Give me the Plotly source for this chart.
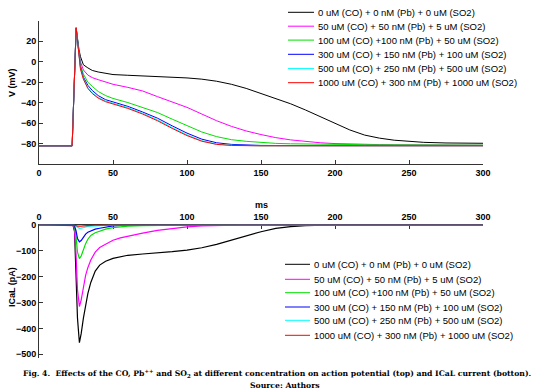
import plotly.graph_objects as go

# ---------------- data ----------------
series_names = [
    "0 uM (CO) + 0 nM (Pb) + 0 uM (SO2)",
    "50 uM (CO) + 50 nM (Pb) + 5 uM (SO2)",
    "100 uM (CO) +100 nM (Pb) + 50 uM (SO2)",
    "300 uM (CO) + 150 nM (Pb) + 100 uM (SO2)",
    "500 uM (CO) + 250 nM (Pb) + 500 uM (SO2)",
    "1000 uM (CO) + 300 nM (Pb) + 1000 uM (SO2)",
]
series_colors = ["#000000", "#ff00ff", "#00e000", "#0000ff", "#00ffff", "#ff0000"]

# action potential (top)
t_v = [0, 22.4, 25.1, 26, 27, 28, 30, 33, 36, 40, 45, 50, 60, 70, 80, 90, 100, 110,
       120, 130, 140, 150, 160, 170, 180, 190, 200, 210, 220, 230, 240, 250, 260, 275, 300]
v_ctrl = [-82, -82, 33, 22, 12, 5, -3, -6, -8.5, -10, -11.5, -12.5, -13.2, -13.8, -14.2,
          -14.8, -15.8, -17, -19, -22, -26, -31, -36, -41, -47, -53.5, -60, -66.5, -71.5,
          -74.5, -76.5, -77.8, -78.6, -79.2, -79.5]
v_50 = [-82, -82, 33, 20, 8, 0, -8, -13, -15.5, -17.5, -20, -22, -25, -28.5, -34, -39.5,
        -44.5, -51, -57.5, -63, -67.5, -71, -74, -76.2, -77.8, -79, -79.8, -80.3, -80.6,
        -80.8, -81, -81.1, -81.2, -81.3, -81.4]
v_100 = [-82, -82, 33, 20, 6, -3, -12, -20, -24, -29, -33, -35.8, -39.8, -44.5, -49.5,
         -56, -62.5, -68.5, -73, -76, -77.6, -78.9, -79.6, -80, -80.3, -80.5, -80.7, -80.8,
         -80.9, -81, -81, -81.1, -81.1, -81.2, -81.3]
v_300 = [-82, -82, 33, 19, 4, -5, -15, -23, -28, -33, -37, -39, -43.5, -49, -55, -62.5,
         -69.6, -75.5, -79, -80.6, -81.3, -81.6, -81.7, -81.8, -81.8, -81.8, -81.8, -81.8,
         -81.8, -81.8, -81.8, -81.8, -81.8, -81.8, -81.8]
v_500 = [-82, -82, 33, 18.5, 3.5, -6.5, -16.5, -25.3, -30.3, -34.8, -38.2, -40.5, -44.7,
         -50.2, -56.7, -64.2, -71.3, -77, -80.3, -81.4, -81.9, -82, -82, -82, -82, -82,
         -82, -82, -82, -82, -82, -82, -82, -82, -82]
v_1000 = [-82, -82, 33, 18, 3, -7, -17, -26, -31, -35.5, -39, -41.3, -45.5, -51, -57.5,
          -65, -72, -77.5, -80.6, -81.6, -82, -82, -82, -82, -82, -82, -82, -82, -82, -82,
          -82, -82, -82, -82, -82]
v_series = [v_ctrl, v_50, v_100, v_300, v_500, v_1000]

# ICaL current (bottom)
t_i = [0, 23, 24, 25, 26, 27.3, 28.5, 30, 31.5, 33, 35, 38, 41, 45, 50, 55, 60, 70, 80,
       90, 100, 110, 120, 130, 140, 150, 160, 170, 180, 190, 200, 220, 250, 300]
i_ctrl = [0, 0, -25, -160, -360, -455, -420, -360, -305, -265, -222, -178, -155, -140,
          -129, -122, -117, -112, -108, -103, -97, -88, -75, -58, -42, -26, -13, -6, -2.5,
          -1, 0, 0, 0, 0]
i_50 = [0, 0, -18, -110, -250, -315, -290, -240, -195, -165, -135, -105, -87, -74, -59,
        -50, -43, -31, -21, -14, -7, -3, -1.2, -0.5, 0, 0, 0, 0, 0, 0, 0, 0, 0, 0]
i_100 = [0, 0, -8, -45, -105, -130, -120, -95, -72, -55, -40, -30, -24, -16, -10, -6.5,
         -4.5, -2.5, -1.2, -0.5, 0, 0, 0, 0, 0, 0, 0, 0, 0, 0, 0, 0, 0, 0]
i_300 = [0, 0, -4, -22, -52, -65, -60, -45, -35, -28, -22, -16, -12.5, -7, -3, -1.5, -0.8,
         -0.3, 0, 0, 0, 0, 0, 0, 0, 0, 0, 0, 0, 0, 0, 0, 0, 0]
i_500 = [0, 0, -1, -5, -10, -13, -12, -9, -7, -5.5, -4, -2.5, -1.8, -1, -0.4, 0, 0, 0, 0,
         0, 0, 0, 0, 0, 0, 0, 0, 0, 0, 0, 0, 0, 0, 0]
i_1000 = [0, 0, -0.5, -2, -4, -5, -4.5, -3.5, -2.6, -2, -1.4, -0.8, -0.5, -0.2, 0, 0, 0, 0,
          0, 0, 0, 0, 0, 0, 0, 0, 0, 0, 0, 0, 0, 0, 0, 0]
i_series = [i_ctrl, i_50, i_100, i_300, i_500, i_1000]

x_ticks = [0, 50, 100, 150, 200, 250, 300]
v_ticks = [-80, -60, -40, -20, 0, 20]
i_ticks = [-500, -400, -300, -200, -100, 0]

# ---------------- layout helpers ----------------
W, H = 550, 392
def px(x):
    return x / W
def py(y):
    return 1 - y / H

fig = go.Figure()
for name, col, v in zip(series_names, series_colors, v_series):
    fig.add_trace(go.Scatter(x=t_v, y=v, mode="lines", name=name, showlegend=False,
                             line=dict(color=col, width=1), xaxis="x", yaxis="y"))
for name, col, cur in zip(series_names, series_colors, i_series):
    fig.add_trace(go.Scatter(x=t_i, y=cur, mode="lines", name=name, showlegend=False,
                             line=dict(color=col, width=1.2), xaxis="x2", yaxis="y2"))

tickfont = dict(family="Liberation Sans, Arial, sans-serif", size=9, color="#000",
                weight="bold")
axis_common = dict(showgrid=False, zeroline=False, showline=True, linecolor="#333",
                   linewidth=1, ticks="inside", ticklen=4, tickcolor="#333",
                   tickfont=tickfont, mirror=False, automargin=False)

fig.update_layout(
    width=W, height=H,
    margin=dict(l=0, r=0, t=0, b=0, autoexpand=False),
    paper_bgcolor="white", plot_bgcolor="white",
    xaxis=dict(domain=[px(39), px(483)], range=[0, 300], anchor="y",
               tickvals=x_ticks, **axis_common),
    yaxis=dict(domain=[py(164.3), py(20.7)], range=[-100, 40], anchor="x",
               tickvals=v_ticks, ticktext=[str(v).replace("-", "\u2212") for v in v_ticks],
               **axis_common),
    xaxis2=dict(domain=[px(39), px(483)], range=[0, 300], anchor="y2", side="top",
                tickvals=x_ticks, layer="below traces", **axis_common),
    yaxis2=dict(domain=[py(357.7), py(224.5)], range=[-513, 2], anchor="x2",
                tickvals=i_ticks, ticktext=[str(v).replace("-", "\u2212") for v in i_ticks],
                **axis_common),
)

annots = []
shapes = []
legfont = dict(family="Liberation Sans, Arial, sans-serif", size=9.5, color="#000")

def add_legend(x_line0, x_line1, x_text, y_rows):
    for name, col, yy in zip(series_names, series_colors, y_rows):
        shapes.append(dict(type="line", xref="paper", yref="paper",
                           x0=px(x_line0), x1=px(x_line1), y0=py(yy), y1=py(yy),
                           line=dict(color=col, width=1)))
        annots.append(dict(text=name, xref="paper", yref="paper", x=px(x_text), y=py(yy),
                           xanchor="left", yanchor="middle", showarrow=False, font=legfont))

add_legend(288, 314, 316, [12.3, 26.2, 40.1, 54.3, 68.6, 82.7])
add_legend(285, 310, 312, [264.3, 279.3, 292.7, 307, 320.3, 335.3])

titlefont = dict(family="Liberation Sans, Arial, sans-serif", size=9, color="#000",
                 weight="bold")
annots.append(dict(text="V (mV)", xref="paper", yref="paper", x=px(12), y=py(83),
                   textangle=-90, showarrow=False, font=titlefont,
                   xanchor="center", yanchor="middle"))
annots.append(dict(text="ICaL (pA)", xref="paper", yref="paper", x=px(12), y=py(287),
                   textangle=-90, showarrow=False, font=titlefont,
                   xanchor="center", yanchor="middle"))
annots.append(dict(text="ms", xref="paper", yref="paper", x=px(261.5), y=py(205),
                   showarrow=False, font=titlefont, xanchor="center", yanchor="middle"))

capfont = dict(family="DejaVu Serif, serif", size=7.7, color="#000", weight="bold")
annots.append(dict(text="Fig. 4.  Effects of the CO, Pb<sup>++</sup> and SO<sub>2</sub> at different "
                        "concentration on action potential (top) and ICaL current (botton).",
                   xref="paper", yref="paper", x=px(277), y=py(373.5), showarrow=False,
                   font=capfont, xanchor="center", yanchor="middle"))
annots.append(dict(text="Source: Authors", xref="paper", yref="paper", x=px(285),
                   y=py(385), showarrow=False, font=capfont, xanchor="center",
                   yanchor="middle"))

fig.update_layout(annotations=annots, shapes=shapes)
fig.write_html("out.html", config={"displayModeBar": False},
               post_script="document.body.style.margin='0';document.body.style.padding='0';")
